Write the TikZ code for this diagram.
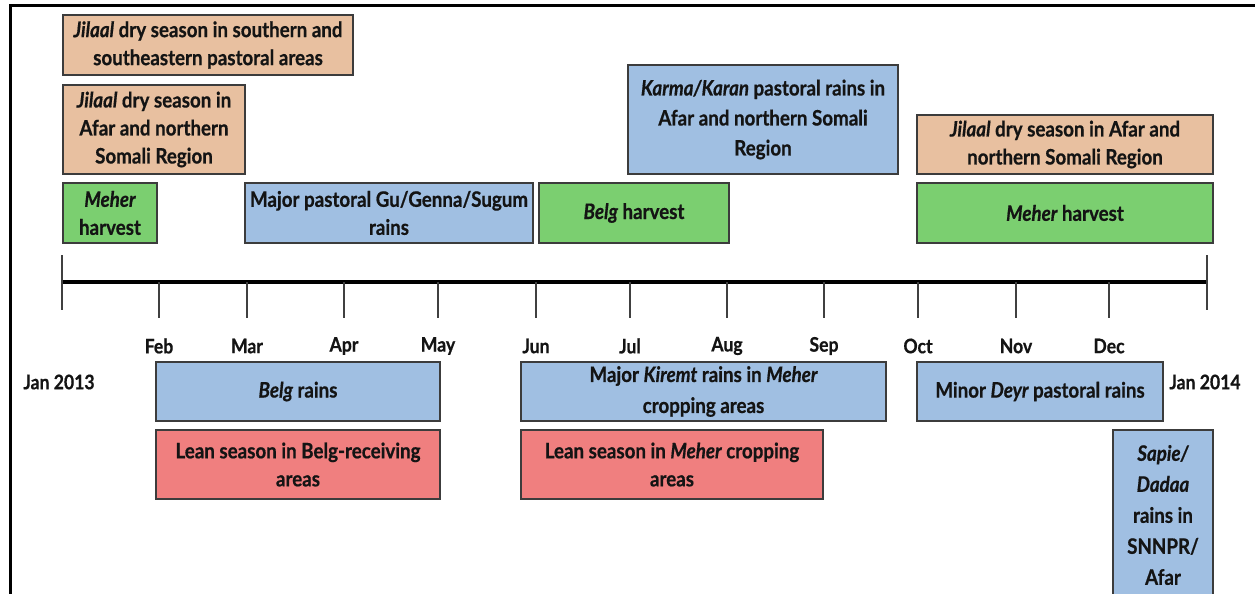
\documentclass[tikz,border=0pt]{standalone}
\usepackage{fontspec}
\setmainfont{Lato}[FakeStretch=0.88, BoldFeatures={FakeBold=0.6}, BoldItalicFeatures={FakeBold=0.6}]
\definecolor{tanfill}{HTML}{E8C0A0}
\definecolor{greenfill}{HTML}{7BCF70}
\definecolor{bluefill}{HTML}{A0BFE2}
\definecolor{redfill}{HTML}{F07F7F}
\definecolor{boxline}{HTML}{3C3C3C}
\definecolor{txt}{HTML}{141414}
\begin{document}
\begin{tikzpicture}[x=1pt,y=-1pt,
  box/.style={draw=boxline, line width=1.4pt, align=center, inner sep=0pt,
    font=\fontsize{21.3}{28}\selectfont\bfseries, text=txt},
  tanbox/.style={box, fill=tanfill},
  greenbox/.style={box, fill=greenfill},
  bluebox/.style={box, fill=bluefill},
  redbox/.style={box, fill=redfill},
  month/.style={font=\fontsize{20}{24}\selectfont\bfseries, text=txt, inner sep=0pt},
  tickline/.style={draw=black!75, line width=1.3pt},
  axisline/.style={draw=black, line width=4pt}]
\useasboundingbox (0,0) rectangle (1255,594);
\clip (0,0) rectangle (1255,594);
\fill[white] (0,0) rectangle (1255,594);
% frame
\draw[line width=3pt] (10,596) -- (10,6) -- (1257,6);
% axis
\coordinate (a0) at (62,282);
\coordinate (a12) at (1207,282);
\draw[axisline] (a0) -- (a12);
\draw[tickline] (62,255) -- (62,310);
\draw[tickline] (1207,255) -- (1207,310);
\foreach \x/\m [count=\i] in {159/Feb,247/Mar,344/Apr,438/May,536/Jun,630/Jul,727/Aug,824/Sep,918/Oct,1016/Nov,1109/Dec}{
  \coordinate (t\i) at (\x,282);
  \draw[tickline] (t\i) -- ++(0,36);
  \node[month] (m\i) at (\x,346) {\m};
}
\node[month] (jan13) at (59,382) {Jan 2013};
\node[month] (jan14) at (1205,382) {Jan 2014};
% upper boxes
\node[tanbox, minimum width=290, minimum height=60] (A) at (208,45)
  {\itshape Jilaal\upshape{} dry season in southern and\\southeastern pastoral areas};
\node[tanbox, minimum width=182, minimum height=89] (B) at (154,129.5)
  {\itshape Jilaal\upshape{} dry season in\\Afar and northern\\Somali Region};
\node[greenbox, minimum width=94, minimum height=60] (C) at (110,213)
  {\itshape Meher\\harvest};
\node[bluebox, minimum width=288, minimum height=60] (D) at (389,213)
  {Major pastoral Gu/Genna/Sugum\\rains};
\node[greenbox, minimum width=190, minimum height=60] (E) at (634,213)
  {\itshape Belg\upshape{} harvest};
\node[bluebox, minimum width=270, minimum height=109, font=\fontsize{21.3}{30}\selectfont\bfseries] (F) at (763,119.5)
  {\itshape Karma/Karan\upshape{} pastoral rains in\\Afar and northern Somali\\Region};
\node[tanbox, minimum width=296, minimum height=59] (G) at (1065,144.5)
  {\itshape Jilaal\upshape{} dry season in Afar and\\northern Somali Region};
\node[greenbox, minimum width=296, minimum height=60] (H) at (1065,213)
  {\itshape Meher\upshape{} harvest};
% lower boxes
\node[bluebox, minimum width=284, minimum height=59] (I) at (298,391.5)
  {\itshape Belg\upshape{} rains};
\node[redbox, minimum width=284, minimum height=69] (J) at (298,464.5)
  {Lean season in Belg-receiving\\areas};
\node[bluebox, minimum width=365, minimum height=59, font=\fontsize{21.3}{31}\selectfont\bfseries] (K) at (703.5,391.5)
  {Major \itshape Kiremt\upshape{} rains in \itshape Meher\upshape\\cropping areas};
\node[redbox, minimum width=302, minimum height=69] (L) at (672,464.5)
  {Lean season in \itshape Meher\upshape{} cropping\\areas};
\node[bluebox, minimum width=246, minimum height=59] (M) at (1040,391.5)
  {Minor \itshape Deyr\upshape{} pastoral rains};
\node[bluebox, minimum width=100, minimum height=170, font=\fontsize{21.3}{31}\selectfont\bfseries] (N) at (1163,515)
  {\itshape Sapie/\\\itshape Dadaa\\rains in\\SNNPR/\\Afar};
\end{tikzpicture}
\end{document}
